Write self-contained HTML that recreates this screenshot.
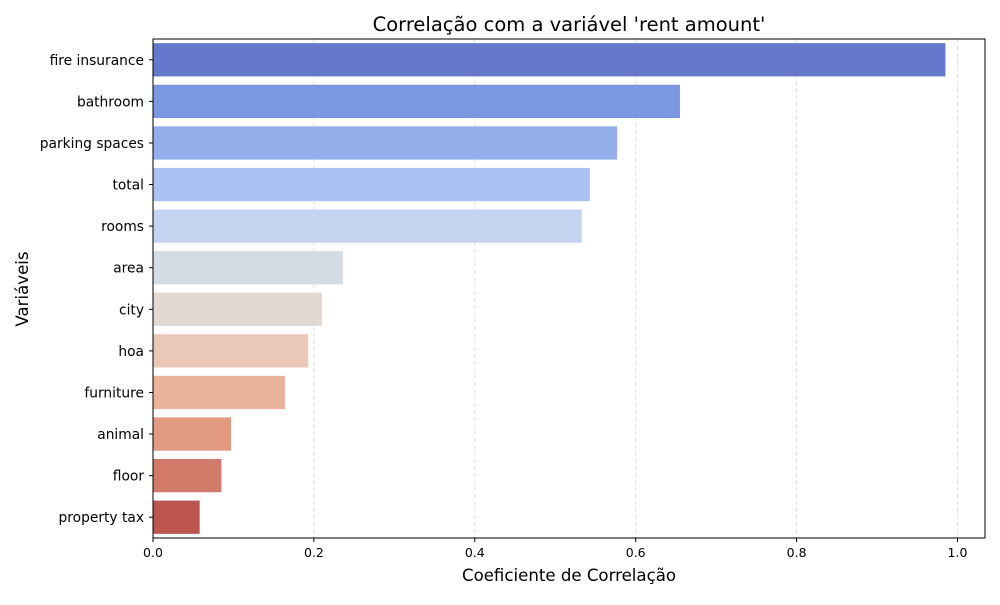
<!DOCTYPE html>
<html><head><meta charset="utf-8"><style>
body{margin:0;background:#fff;font-family:"Liberation Sans","DejaVu Sans",sans-serif;}
svg text{font-family:"DejaVu Sans","Liberation Sans",sans-serif;}
</style></head><body>
<svg id="chart" width="1000" height="600" xmlns="http://www.w3.org/2000/svg">
<rect width="1000" height="600" fill="#fff"/>
<text x="569" y="31" font-size="19.5" text-anchor="middle" fill="#000">Correlação com a variável 'rent amount'</text>
<text x="569" y="581" font-size="16.6" text-anchor="middle" fill="#000">Coeficiente de Correlação</text>
<text x="28" y="289" font-size="16.6" text-anchor="middle" fill="#000" transform="rotate(-90 28 289)">Variáveis</text>
<g id="grid"></g><g id="bars"></g><g id="axes"></g>
</svg>
<script>
const categories=["fire insurance","bathroom","parking spaces","total","rooms","area","city","hoa","furniture","animal","floor","property tax"];
const values=[0.985,0.655,0.577,0.543,0.533,0.236,0.21,0.193,0.164,0.097,0.085,0.058];
const colors=["#6479cc","#7b97e0","#93aeea","#aac3f3","#c4d3f0","#d5dbe5","#e3d9d3","#eac7b7","#ebb29c","#e39a82","#d37b6a","#bc5550"];
const xTicks=[0,0.2,0.4,0.6,0.8,1.0];
const xTickLabels=["0.0","0.2","0.4","0.6","0.8","1.0"];
const L=153,R=985,T=39,B=538;
const x=v=>L+v*804.5;
const band=(B-T)/categories.length;
const y=i=>T+i*band;
const NS="http://www.w3.org/2000/svg";
function mk(tag,attrs,parent){const e=document.createElementNS(NS,tag);for(const k in attrs)e.setAttribute(k,attrs[k]);parent.appendChild(e);return e;}
const grid=document.getElementById('grid'),bars=document.getElementById('bars'),axes=document.getElementById('axes');
xTicks.forEach((t,i)=>{
 const g=mk('line',{x1:x(t),x2:x(t),y1:T,y2:B,stroke:'#c8c8c8','stroke-dasharray':'4,3','stroke-width':0.8,opacity:0.7},grid);
 
 
 const tk=mk('line',{x1:x(t),x2:x(t),y1:B,y2:B+4,stroke:'#000'},axes);
 
 
 const tx=mk('text',{x:x(t),y:B+19,'font-size':12.5,'text-anchor':'middle'},axes);
 tx.textContent=xTickLabels[i];
 
 
});
categories.forEach((c,i)=>{
 const h=band*0.8;
 const r=mk('rect',{x:L,y:y(i)+band*0.1,width:x(values[i])-L,height:h,fill:colors[i]},bars);
 
 
 const tk=mk('line',{x1:L-4,x2:L,y1:y(i)+band/2,y2:y(i)+band/2,stroke:'#000'},axes);
 
 
 const tx=mk('text',{x:L-9,y:y(i)+band/2+5,'font-size':13.8,'text-anchor':'end'},axes);
 tx.textContent=c;
 
 
});
const fr=mk('rect',{x:L,y:T,width:R-L,height:B-T,fill:'none',stroke:'#000','stroke-width':1},axes);


</script>
</body></html>
